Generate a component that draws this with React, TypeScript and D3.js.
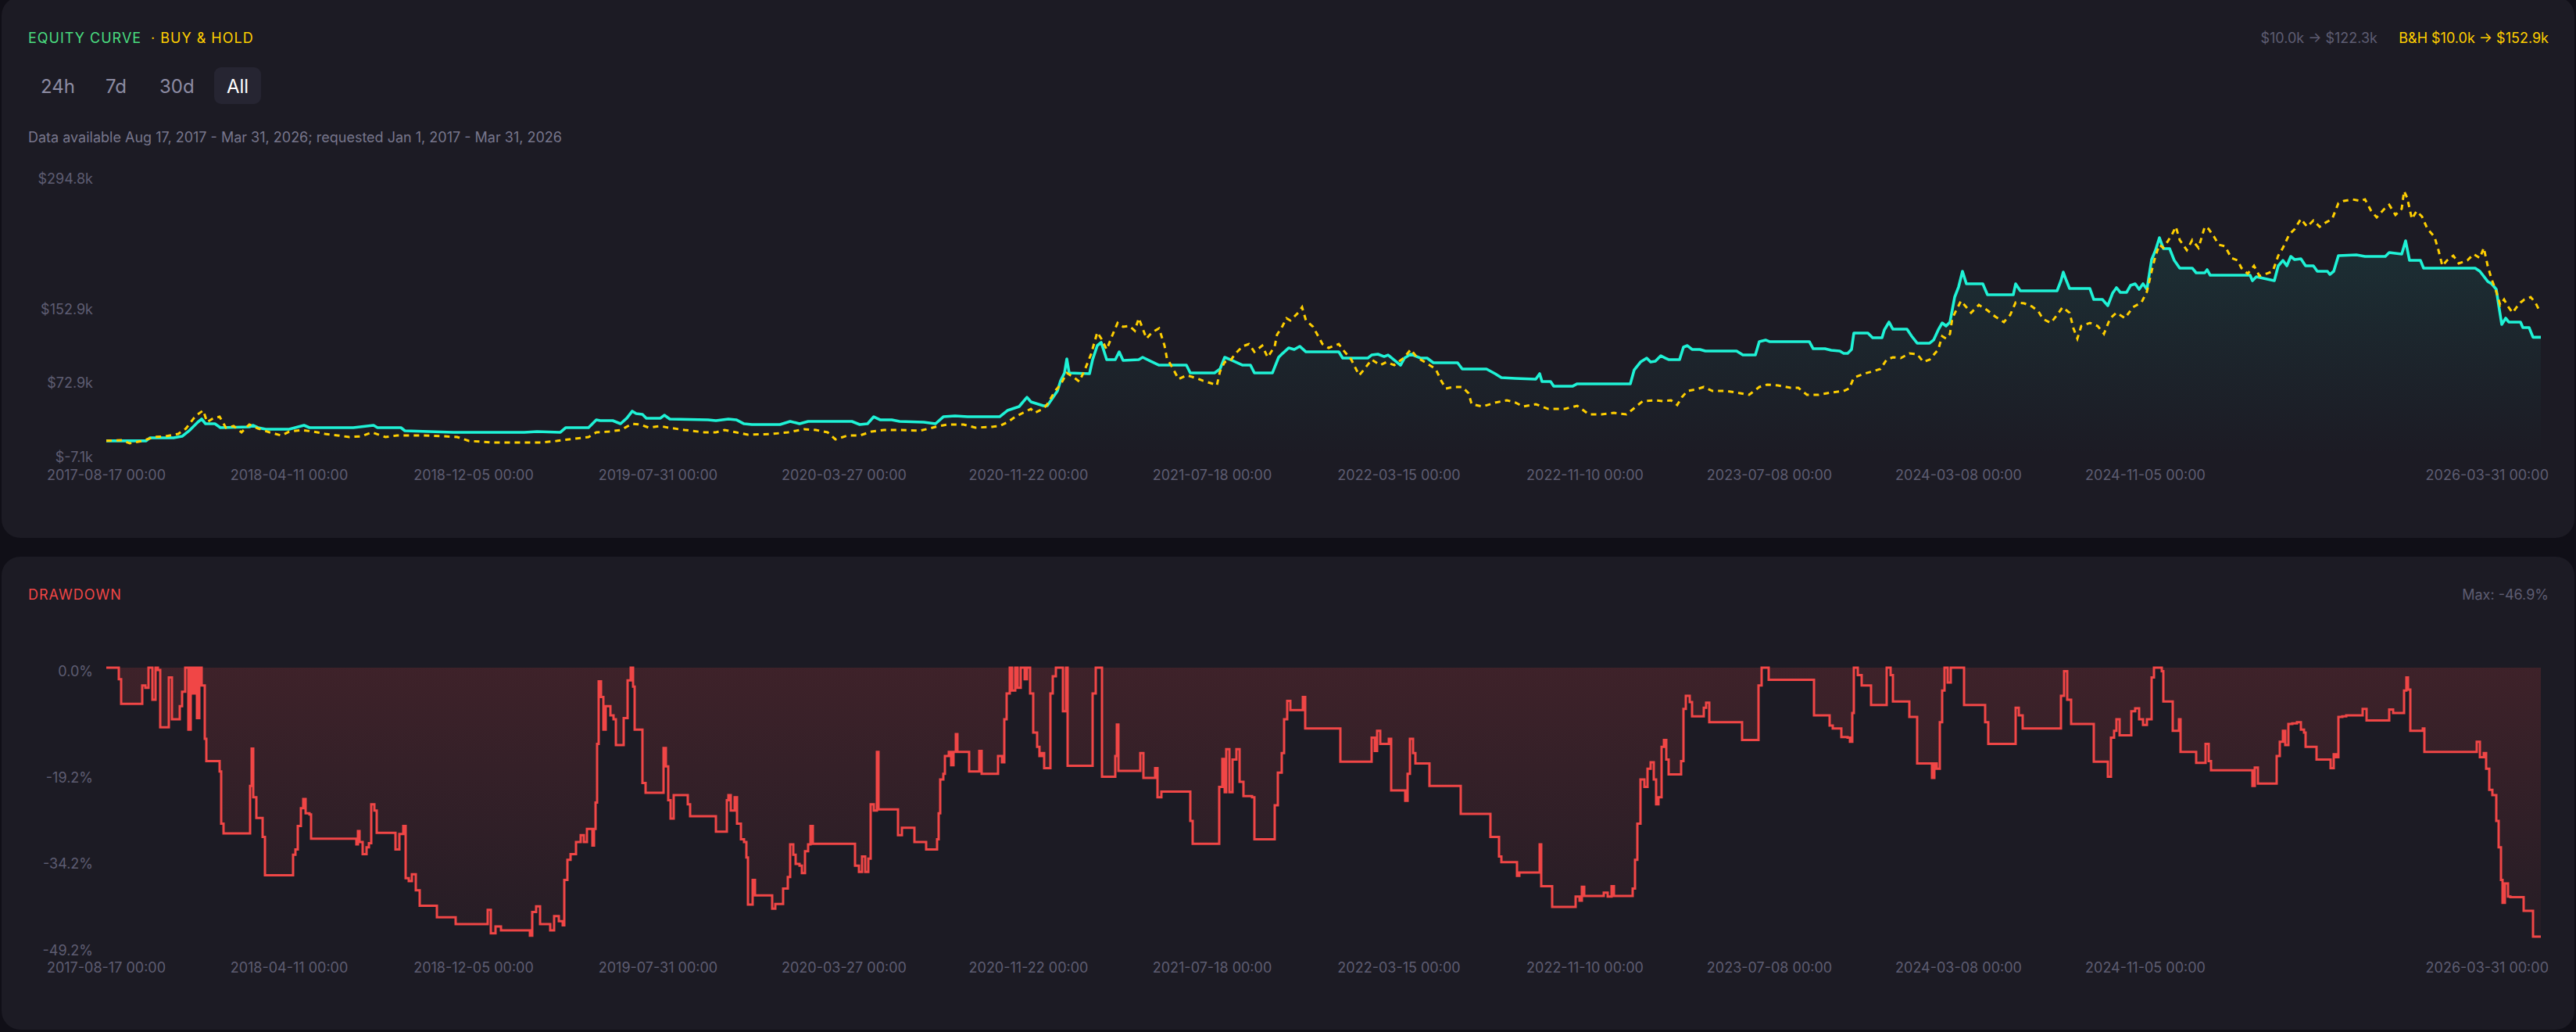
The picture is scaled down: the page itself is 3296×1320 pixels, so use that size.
import { useRef, useEffect } from 'react';
import * as d3 from 'd3';

const W = 3296;
const H = 1320;
const FONT = 'Inter, "Noto Sans", sans-serif';

// x is measured in bars (0 = first candle, 3115 = last)
const LAST_BAR = 3115;

const X_TICKS: [number, string][] = [
  [0, '2017-08-17 00:00'],
  [234, '2018-04-11 00:00'],
  [470, '2018-12-05 00:00'],
  [706, '2019-07-31 00:00'],
  [944, '2020-03-27 00:00'],
  [1180, '2020-11-22 00:00'],
  [1415, '2021-07-18 00:00'],
  [1654, '2022-03-15 00:00'],
  [1892, '2022-11-10 00:00'],
  [2128, '2023-07-08 00:00'],
  [2370, '2024-03-08 00:00'],
  [2609, '2024-11-05 00:00'],
  [3115, '2026-03-31 00:00'],
];

const EQ_DOMAIN = [-7.1, 294.8];
const EQ_TICKS = [294.8, 152.9, 72.9, -7.1];
const DD_DOMAIN = [-49.2, 0];
const DD_TICKS = [0, -19.2, -34.2, -49.2];

const RANGES = ['24h', '7d', '30d', 'All'];
const ACTIVE_RANGE = 'All';

// strategy equity, $k
const STRATEGY: [number, number][] = [
  [0, 10.0], [51, 10.0], [56, 13.3], [86, 13.3], [97, 14.9], [107, 21.7], [117, 30.2], [122, 33.6],
  [127, 28.5], [139, 28.5], [146, 24.3], [183, 25.1], [188, 26.8], [194, 24.3], [204, 22.6], [234, 22.6],
  [253, 26.8], [260, 24.3], [316, 24.3], [342, 26.8], [347, 24.3], [377, 24.3], [382, 20.9], [413, 20.0],
  [444, 19.2], [535, 19.2], [551, 20.0], [581, 19.2], [588, 24.3], [617, 24.3], [627, 32.8], [632, 31.9],
  [648, 31.9], [658, 28.5], [666, 34.5], [673, 42.1], [678, 39.5], [686, 38.7], [691, 34.5], [709, 34.5],
  [714, 37.8], [721, 33.6], [770, 32.8], [780, 31.9], [796, 33.6], [806, 32.8], [816, 28.5], [826, 27.7],
  [862, 27.7], [875, 31.1], [887, 28.5], [898, 31.1], [954, 31.1], [964, 27.7], [974, 28.5], [982, 36.1],
  [990, 32.8], [1005, 32.8], [1015, 31.1], [1046, 30.2], [1061, 28.5], [1071, 36.1], [1086, 37.0], [1102, 36.1],
  [1143, 36.1], [1153, 42.9], [1168, 47.2], [1178, 57.3], [1183, 52.3], [1199, 48.0], [1204, 48.0], [1217, 64.1],
  [1221, 75.2], [1226, 83.6], [1229, 98.9], [1232, 83.6], [1258, 82.8], [1262, 98.1], [1268, 113.3], [1273, 116.7],
  [1280, 98.1], [1291, 98.1], [1296, 106.5], [1301, 97.2], [1321, 98.1], [1326, 100.6], [1336, 96.4], [1347, 92.1],
  [1382, 92.1], [1387, 83.6], [1418, 83.6], [1425, 87.9], [1431, 100.6], [1438, 98.1], [1454, 92.1], [1464, 92.1],
  [1469, 83.6], [1492, 83.6], [1500, 100.6], [1505, 104.8], [1513, 110.8], [1520, 109.1], [1527, 112.5], [1535, 106.5],
  [1577, 106.5], [1582, 99.7], [1614, 99.7], [1619, 103.1], [1627, 104.0], [1635, 101.4], [1640, 103.1], [1645, 99.7],
  [1656, 92.1], [1661, 99.7], [1669, 104.0], [1682, 99.7], [1690, 99.7], [1698, 94.7], [1729, 94.7], [1735, 87.9],
  [1766, 87.9], [1777, 82.8], [1785, 78.5], [1803, 77.7], [1829, 76.9], [1834, 82.8], [1837, 74.3], [1848, 74.3],
  [1852, 69.2], [1876, 69.2], [1882, 71.8], [1950, 71.8], [1955, 87.0], [1963, 95.5], [1971, 99.7], [1976, 95.5],
  [1982, 96.4], [1989, 102.3], [1995, 99.7], [1999, 98.1], [2013, 98.1], [2018, 111.6], [2023, 113.3], [2029, 109.1],
  [2039, 109.1], [2046, 107.4], [2086, 107.4], [2094, 103.1], [2110, 103.1], [2115, 117.6], [2123, 119.3], [2128, 117.6],
  [2179, 117.6], [2184, 109.9], [2199, 109.9], [2207, 108.2], [2218, 107.4], [2223, 104.8], [2228, 104.8], [2233, 109.1],
  [2236, 126.9], [2254, 126.9], [2260, 121.8], [2272, 121.8], [2275, 130.3], [2281, 138.8], [2286, 131.1], [2304, 131.1],
  [2310, 123.5], [2317, 115.9], [2333, 115.9], [2338, 119.3], [2344, 130.3], [2349, 137.9], [2354, 134.5], [2359, 138.8],
  [2365, 165.9], [2370, 176.9], [2375, 193.9], [2380, 180.3], [2401, 180.3], [2407, 168.4], [2440, 168.4], [2443, 180.3],
  [2449, 172.7], [2496, 172.7], [2501, 183.7], [2504, 193.0], [2508, 183.7], [2512, 175.2], [2538, 175.2], [2543, 163.3],
  [2554, 163.3], [2561, 156.6], [2567, 170.1], [2572, 176.1], [2577, 171.0], [2585, 171.0], [2590, 178.6], [2596, 180.3],
  [2601, 174.4], [2606, 180.3], [2611, 174.4], [2617, 206.6], [2622, 216.8], [2627, 230.3], [2632, 218.5], [2640, 218.5],
  [2646, 205.7], [2653, 197.3], [2669, 197.3], [2674, 192.2], [2685, 192.2], [2688, 195.6], [2692, 189.6], [2743, 189.6],
  [2746, 183.7], [2751, 187.9], [2774, 183.7], [2779, 199.8], [2785, 205.7], [2790, 199.8], [2795, 210.0], [2800, 206.6],
  [2808, 207.4], [2814, 199.8], [2824, 199.8], [2829, 193.9], [2842, 193.9], [2845, 190.5], [2850, 193.9], [2856, 210.8],
  [2879, 211.7], [2890, 210.0], [2916, 210.0], [2921, 214.2], [2937, 212.5], [2942, 226.9], [2947, 205.7], [2961, 205.7],
  [2965, 197.3], [3031, 197.3], [3037, 193.9], [3047, 182.9], [3052, 180.3], [3058, 174.4], [3061, 157.4], [3065, 136.2],
  [3070, 143.0], [3074, 138.8], [3089, 138.8], [3092, 132.8], [3100, 132.8], [3105, 122.3], [3115, 122.3],
];

// buy & hold equity, $k
const BUY_HOLD: [number, number][] = [
  [0, 10.0], [20, 10.7], [30, 7.3], [46, 9.9], [61, 14.1], [76, 14.9], [92, 17.5], [102, 23.4],
  [112, 34.5], [117, 38.7], [124, 42.9], [129, 30.2], [137, 34.5], [145, 36.1], [153, 24.3], [163, 26.0],
  [173, 19.2], [183, 27.7], [194, 23.4], [209, 19.2], [224, 15.8], [234, 20.0], [250, 21.7], [265, 20.0],
  [280, 17.5], [296, 15.8], [311, 14.1], [326, 14.9], [340, 19.2], [357, 14.1], [372, 15.8], [403, 15.8],
  [433, 14.9], [449, 14.1], [464, 9.9], [495, 8.2], [556, 8.2], [576, 9.9], [592, 11.6], [617, 14.1],
  [627, 19.2], [643, 20.0], [658, 21.7], [673, 28.5], [683, 27.7], [694, 24.3], [709, 26.0], [719, 24.3],
  [740, 21.7], [765, 19.2], [780, 19.2], [791, 21.7], [806, 19.2], [821, 16.6], [852, 17.5], [872, 19.2],
  [893, 22.6], [908, 21.7], [923, 19.2], [933, 11.6], [949, 15.8], [964, 15.8], [979, 20.0], [995, 21.7],
  [1015, 21.7], [1041, 20.9], [1061, 25.1], [1076, 27.7], [1097, 27.7], [1112, 24.3], [1132, 25.1], [1143, 26.0],
  [1153, 30.2], [1163, 36.1], [1173, 40.4], [1183, 44.6], [1188, 40.4], [1194, 42.9], [1199, 44.6], [1204, 49.7],
  [1214, 64.1], [1221, 70.9], [1229, 83.6], [1237, 79.4], [1245, 74.3], [1252, 87.0], [1260, 104.0], [1268, 127.7],
  [1273, 120.9], [1280, 109.1], [1288, 126.0], [1294, 137.9], [1301, 133.7], [1309, 134.5], [1316, 129.4], [1321, 143.0],
  [1331, 120.9], [1338, 127.7], [1347, 132.0], [1354, 113.3], [1357, 99.7], [1364, 89.6], [1372, 76.9], [1382, 81.1],
  [1393, 78.5], [1403, 75.2], [1413, 72.6], [1421, 70.1], [1425, 85.3], [1431, 95.5], [1438, 96.4], [1444, 104.0],
  [1454, 112.5], [1462, 115.0], [1469, 106.5], [1479, 113.3], [1486, 100.6], [1495, 112.5], [1498, 125.2], [1505, 134.5],
  [1510, 143.0], [1515, 140.5], [1525, 148.9], [1530, 154.9], [1535, 140.5], [1544, 133.7], [1549, 126.0], [1556, 115.0],
  [1564, 110.8], [1577, 115.0], [1582, 109.1], [1593, 98.1], [1603, 81.1], [1609, 87.0], [1619, 98.1], [1630, 92.1],
  [1638, 95.5], [1648, 92.1], [1661, 100.6], [1669, 109.1], [1677, 100.6], [1687, 95.5], [1701, 87.9], [1708, 75.2],
  [1714, 66.7], [1724, 68.4], [1735, 68.4], [1743, 61.6], [1747, 49.7], [1761, 47.2], [1777, 51.4], [1792, 54.0],
  [1803, 51.4], [1813, 47.2], [1829, 49.7], [1845, 44.6], [1866, 44.6], [1882, 48.0], [1897, 38.7], [1913, 38.7],
  [1929, 40.4], [1945, 38.7], [1955, 45.5], [1966, 53.1], [1981, 54.0], [1992, 53.1], [2002, 54.0], [2010, 48.9],
  [2016, 57.3], [2023, 64.1], [2034, 65.8], [2044, 68.4], [2055, 64.1], [2071, 64.1], [2086, 62.4], [2102, 59.9],
  [2115, 68.4], [2125, 70.9], [2139, 70.1], [2155, 67.5], [2165, 67.5], [2176, 59.9], [2191, 59.9], [2207, 62.4],
  [2223, 64.1], [2230, 66.7], [2236, 78.5], [2249, 82.8], [2260, 85.3], [2270, 87.9], [2278, 98.1], [2286, 100.6],
  [2296, 99.7], [2307, 104.8], [2317, 104.0], [2325, 95.5], [2333, 98.1], [2344, 109.1], [2349, 123.5], [2354, 120.9],
  [2359, 126.0], [2362, 143.0], [2367, 151.5], [2373, 161.7], [2380, 154.9], [2386, 148.9], [2396, 157.4], [2407, 151.5],
  [2417, 144.7], [2428, 138.8], [2436, 146.4], [2443, 160.0], [2454, 159.1], [2464, 155.7], [2472, 150.6], [2478, 142.1],
  [2488, 137.9], [2496, 146.4], [2503, 154.9], [2512, 148.9], [2517, 132.0], [2522, 120.9], [2527, 134.5], [2538, 137.9],
  [2548, 134.5], [2556, 126.0], [2564, 143.0], [2572, 148.9], [2583, 143.0], [2593, 154.9], [2604, 160.0], [2611, 171.8],
  [2617, 193.9], [2622, 210.8], [2627, 222.7], [2632, 219.3], [2638, 226.9], [2643, 233.7], [2648, 242.2], [2653, 227.8],
  [2662, 216.8], [2669, 227.8], [2677, 219.3], [2685, 242.2], [2690, 239.7], [2697, 231.2], [2703, 222.7], [2711, 221.0],
  [2719, 208.3], [2727, 205.7], [2732, 197.3], [2740, 191.3], [2748, 199.8], [2755, 188.8], [2764, 191.3], [2772, 193.9],
  [2779, 210.8], [2785, 219.3], [2793, 233.7], [2800, 239.7], [2808, 250.7], [2816, 242.2], [2824, 249.0], [2832, 242.2],
  [2839, 246.4], [2848, 250.7], [2856, 267.7], [2863, 270.2], [2874, 271.9], [2884, 270.2], [2890, 271.9], [2898, 259.2],
  [2905, 252.4], [2914, 260.9], [2921, 266.0], [2929, 255.0], [2937, 261.7], [2940, 280.8], [2944, 273.6], [2950, 250.7],
  [2956, 259.2], [2963, 253.2], [2970, 239.7], [2979, 231.2], [2984, 216.8], [2989, 199.8], [2995, 205.7], [3003, 210.8],
  [3010, 202.4], [3021, 205.7], [3029, 212.5], [3037, 208.3], [3042, 219.3], [3047, 199.8], [3052, 185.4], [3058, 171.8],
  [3063, 157.4], [3068, 163.3], [3073, 155.7], [3079, 148.9], [3084, 154.9], [3089, 160.0], [3094, 163.3], [3102, 165.9],
  [3108, 160.0], [3112, 153.2], [3115, 152.9],
];

// strategy drawdown, %
const DRAWDOWN: [number, number][] = [
  [0, 0], [16, 0], [16, -2.0], [19, -2.0], [19, -6.3], [43, -6.3], [46, -3.1], [50, -3.5], [54, 0], [57, 0],
  [59, -5.6], [63, 0], [66, -0.4], [69, -10.4], [77, -10.4], [80, -1.7], [84, -9.0], [90, -9.0], [94, -6.7], [97, -4.2],
  [101, 0], [105, -10.8], [108, 0], [111, -4.5], [114, 0], [116, -8.8], [119, 0], [122, -3.1], [126, -12.4], [128, -16.3],
  [142, -16.3], [145, -18.1], [147, -27.2], [150, -28.9], [181, -28.9], [184, -20.6], [186, -14.1], [188, -22.6], [192, -26.2], [197, -26.2],
  [200, -29.5], [203, -36.2], [237, -36.2], [239, -32.6], [242, -31.7], [245, -27.6], [249, -24.5], [252, -22.9], [255, -25.4], [260, -25.6],
  [262, -29.8], [317, -29.8], [320, -30.8], [322, -28.5], [324, -30.4], [328, -32.5], [333, -31.3], [336, -30.6], [339, -23.8], [343, -24.9],
  [346, -28.8], [367, -28.8], [370, -31.7], [375, -29.0], [380, -27.6], [383, -36.7], [387, -37.2], [391, -36.0], [396, -38.8], [401, -41.5],
  [420, -41.5], [423, -43.5], [445, -43.5], [447, -44.7], [485, -44.7], [488, -42.2], [492, -46.3], [498, -45.1], [505, -45.8], [537, -45.8],
  [542, -46.7], [545, -42.6], [550, -41.6], [555, -44.7], [563, -44.7], [568, -45.8], [573, -43.3], [579, -44.2], [584, -44.9], [586, -37.0],
  [590, -33.5], [594, -32.5], [601, -30.4], [607, -29.2], [611, -30.4], [615, -28.1], [622, -31.0], [624, -28.1], [626, -23.5], [628, -13.3],
  [630, -2.4], [633, -5.1], [636, -10.8], [639, -6.7], [645, -8.3], [649, -9.0], [652, -13.5], [659, -13.5], [662, -8.8], [667, -2.2],
  [671, 0], [674, -3.3], [676, -10.8], [684, -10.8], [686, -20.1], [690, -21.8], [709, -21.8], [713, -14.0], [716, -17.2], [719, -23.1],
  [722, -26.3], [726, -22.2], [741, -22.2], [744, -23.8], [747, -25.9], [776, -25.9], [780, -28.6], [791, -28.6], [794, -23.1], [796, -22.2],
  [799, -24.9], [804, -22.6], [807, -27.2], [812, -29.9], [816, -30.4], [819, -33.1], [821, -41.3], [827, -37.0], [830, -39.7], [849, -39.7],
  [852, -42.0], [856, -41.2], [862, -41.2], [866, -38.5], [872, -36.5], [875, -30.8], [879, -32.6], [882, -34.2], [887, -34.5], [890, -35.8],
  [894, -32.0], [898, -30.8], [901, -27.6], [904, -30.7], [955, -30.7], [958, -34.5], [963, -35.6], [967, -32.9], [971, -35.6], [975, -33.3],
  [978, -23.8], [982, -24.9], [986, -14.7], [988, -24.7], [1010, -24.7], [1013, -29.2], [1018, -27.9], [1031, -27.9], [1034, -30.4], [1044, -30.4],
  [1049, -31.7], [1060, -31.7], [1063, -29.9], [1065, -25.4], [1067, -19.5], [1071, -18.5], [1073, -15.4], [1078, -14.7], [1081, -17.0], [1084, -14.7],
  [1087, -11.6], [1089, -14.7], [1102, -14.7], [1104, -18.1], [1115, -18.1], [1117, -14.5], [1120, -18.5], [1138, -18.5], [1141, -15.4], [1146, -16.5],
  [1149, -9.0], [1152, -4.5], [1156, 0], [1159, -4.0], [1163, 0], [1166, -3.5], [1170, 0], [1175, -2.0], [1178, 0], [1182, -4.5],
  [1186, -11.3], [1191, -13.8], [1194, -15.4], [1197, -14.9], [1200, -17.5], [1206, -17.5], [1208, -4.5], [1211, -1.5], [1215, 0], [1220, 0],
  [1224, -7.6], [1228, 0], [1230, -17.1], [1259, -17.1], [1262, -4.5], [1266, 0], [1272, 0], [1274, -19.0], [1288, -19.0], [1291, -15.4],
  [1293, -9.9], [1295, -18.0], [1320, -18.0], [1323, -14.9], [1327, -19.2], [1339, -19.2], [1342, -17.5], [1345, -22.6], [1350, -21.6], [1384, -21.6],
  [1387, -26.7], [1390, -30.7], [1421, -30.7], [1424, -20.8], [1428, -15.9], [1431, -21.7], [1433, -14.2], [1437, -21.7], [1441, -16.0], [1446, -14.2],
  [1450, -19.9], [1455, -22.4], [1466, -22.6], [1469, -29.9], [1492, -29.9], [1495, -24.0], [1499, -18.3], [1504, -14.9], [1507, -9.0], [1511, -5.8],
  [1515, -7.4], [1528, -7.4], [1531, -5.1], [1534, -10.6], [1575, -10.6], [1579, -16.4], [1616, -16.4], [1619, -12.2], [1623, -14.5], [1626, -11.0],
  [1630, -13.3], [1638, -13.3], [1641, -12.4], [1644, -21.4], [1659, -21.4], [1662, -23.2], [1665, -18.5], [1668, -12.4], [1672, -14.9], [1675, -16.7],
  [1690, -16.7], [1693, -20.6], [1729, -20.6], [1733, -25.5], [1766, -25.5], [1771, -29.5], [1779, -29.5], [1782, -32.9], [1785, -33.9], [1803, -33.9],
  [1805, -36.3], [1808, -35.7], [1831, -35.7], [1834, -30.8], [1836, -38.1], [1848, -38.1], [1850, -41.7], [1877, -41.7], [1880, -39.9], [1885, -40.6],
  [1888, -38.2], [1891, -39.8], [1913, -39.8], [1916, -39.2], [1921, -39.9], [1926, -38.1], [1929, -39.8], [1950, -39.8], [1953, -38.5], [1956, -33.5],
  [1959, -27.2], [1963, -19.5], [1968, -20.8], [1972, -17.6], [1976, -16.5], [1980, -19.5], [1983, -23.8], [1986, -22.6], [1990, -13.8], [1993, -12.6],
  [1996, -16.0], [1999, -18.6], [2013, -18.6], [2015, -16.3], [2018, -7.2], [2021, -4.9], [2026, -6.0], [2029, -8.5], [2041, -8.5], [2044, -7.0],
  [2047, -6.1], [2051, -9.5], [2089, -9.5], [2093, -12.6], [2110, -12.6], [2114, -3.1], [2118, 0], [2123, 0], [2127, -2.1], [2182, -2.1],
  [2185, -8.3], [2202, -8.3], [2205, -10.1], [2209, -10.6], [2215, -10.6], [2220, -12.1], [2228, -12.2], [2231, -12.9], [2234, -7.9], [2236, 0],
  [2241, -1.3], [2246, -3.1], [2255, -3.1], [2258, -6.5], [2275, -6.5], [2278, 0], [2283, -1.3], [2286, -5.9], [2305, -5.9], [2307, -8.6],
  [2314, -8.6], [2317, -16.7], [2333, -16.7], [2336, -19.2], [2339, -16.7], [2342, -17.6], [2346, -9.5], [2349, -4.0], [2352, 0], [2356, -2.6],
  [2360, 0], [2373, 0], [2377, -6.5], [2401, -6.5], [2404, -9.5], [2408, -13.3], [2440, -13.3], [2443, -7.0], [2447, -8.3], [2452, -10.6],
  [2498, -10.6], [2501, -4.9], [2505, -0.6], [2509, -5.6], [2514, -9.8], [2538, -9.8], [2543, -16.4], [2557, -16.4], [2561, -19.0], [2565, -12.2],
  [2569, -11.0], [2572, -9.0], [2576, -11.8], [2587, -11.8], [2591, -7.6], [2596, -7.1], [2601, -9.0], [2606, -10.0], [2611, -9.0], [2617, -1.7],
  [2620, 0], [2625, 0], [2630, -0.6], [2632, -5.9], [2641, -5.9], [2644, -11.0], [2650, -11.0], [2652, -9.0], [2654, -14.7], [2671, -14.7],
  [2674, -16.6], [2682, -16.6], [2686, -13.3], [2690, -16.3], [2693, -17.9], [2743, -17.9], [2746, -20.6], [2749, -17.4], [2753, -20.2], [2774, -20.2],
  [2777, -15.4], [2781, -12.9], [2785, -11.0], [2788, -13.5], [2792, -9.8], [2797, -9.7], [2803, -9.5], [2808, -10.8], [2812, -11.3], [2814, -13.8],
  [2824, -13.8], [2828, -16.0], [2842, -16.0], [2846, -17.5], [2850, -15.1], [2853, -15.6], [2856, -8.6], [2861, -8.5], [2866, -8.3], [2884, -8.3],
  [2887, -7.2], [2892, -9.2], [2917, -9.2], [2921, -7.3], [2926, -7.9], [2937, -7.9], [2940, -4.0], [2943, -1.7], [2945, -3.8], [2948, -11.0],
  [2961, -11.0], [2964, -10.6], [2966, -14.7], [3031, -14.7], [3033, -12.9], [3037, -15.6], [3042, -14.9], [3045, -17.6], [3049, -21.3], [3053, -22.2],
  [3058, -26.7], [3061, -31.3], [3064, -37.0], [3066, -41.0], [3069, -37.6], [3073, -39.9], [3076, -40.0], [3089, -40.0], [3093, -42.4], [3102, -42.4],
  [3105, -46.9], [3115, -46.9],
];

const C = {
  page: '#100f17',
  panel: '#1c1b24',
  grey: '#5e5d72',
  greyLight: '#77768c',
  button: '#8d8ca3',
  green: '#4ade80',
  yellow: '#ffcf00',
  cyan: '#1ff2d6',
  red: '#f04646',
};

export default function App() {
  const svgRef = useRef<SVGSVGElement>(null);

  useEffect(() => {
    const svg = d3.select(svgRef.current);
    svg.selectAll('*').remove();

    const x = d3.scaleLinear().domain([0, LAST_BAR]).range([136, 3251]);
    const yEq = d3.scaleLinear().domain(EQ_DOMAIN).range([584, 228]);
    const yDd = d3.scaleLinear().domain(DD_DOMAIN).range([1215, 854]);

    const text = (
      tx: number,
      ty: number,
      str: string,
      fill: string,
      size = 18,
      anchor = 'start',
      spacing = 0
    ) =>
      svg
        .append('text')
        .attr('x', tx)
        .attr('y', ty)
        .attr('fill', fill)
        .attr('font-size', size)
        .attr('font-family', FONT)
        .attr('text-anchor', anchor)
        .attr('dominant-baseline', 'central')
        .attr('letter-spacing', spacing)
        .text(str);

    // gradients
    const defs = svg.append('defs');
    const eqGrad = defs
      .append('linearGradient')
      .attr('id', 'eqFill')
      .attr('gradientUnits', 'userSpaceOnUse')
      .attr('x1', 0).attr('x2', 0)
      .attr('y1', yEq.range()[1]).attr('y2', yEq.range()[0]);
    eqGrad.append('stop').attr('offset', 0).attr('stop-color', C.cyan).attr('stop-opacity', 0.12);
    eqGrad.append('stop').attr('offset', 1).attr('stop-color', C.cyan).attr('stop-opacity', 0.0);

    const ddGrad = defs
      .append('linearGradient')
      .attr('id', 'ddFill')
      .attr('gradientUnits', 'userSpaceOnUse')
      .attr('x1', 0).attr('x2', 0)
      .attr('y1', yDd.range()[1]).attr('y2', yDd.range()[0]);
    ddGrad.append('stop').attr('offset', 0).attr('stop-color', C.red).attr('stop-opacity', 0.16);
    ddGrad.append('stop').attr('offset', 1).attr('stop-color', C.red).attr('stop-opacity', 0.04);

    // page + panels
    svg.append('rect').attr('width', W).attr('height', H).attr('fill', C.page);
    svg.append('rect').attr('x', 2).attr('y', -4).attr('width', 3292).attr('height', 692).attr('rx', 24).attr('fill', C.panel);
    svg.append('rect').attr('x', 2).attr('y', 712).attr('width', 3292).attr('height', 605).attr('rx', 24).attr('fill', C.panel);

    // ---- equity header
    text(36, 48, 'EQUITY CURVE', C.green, 18, 'start', 1);
    text(193, 48, '· BUY & HOLD', C.yellow, 18, 'start', 1);
    text(3042, 48, '$10.0k \u2192 $122.3k', C.grey, 18, 'end');
    text(3261, 48, 'B&H $10.0k \u2192 $152.9k', C.yellow, 18, 'end');

    const btnX = [52, 135, 204, 290];
    RANGES.forEach((r, i) => {
      const active = r === ACTIVE_RANGE;
      if (active) {
        svg
          .append('rect')
          .attr('x', btnX[i] - 16)
          .attr('y', 86)
          .attr('width', 60)
          .attr('height', 47)
          .attr('rx', 9)
          .attr('fill', '#262532');
      }
      text(btnX[i], 110, r, active ? '#ffffff' : C.button, 24);
    });

    text(36, 175, 'Data available Aug 17, 2017 - Mar 31, 2026; requested Jan 1, 2017 - Mar 31, 2026', C.greyLight, 18);

    // equity y labels
    EQ_TICKS.forEach((t) => {
      text(119, yEq(t), `$${t.toFixed(1)}k`, C.grey, 18, 'end');
    });

    // x labels (both panels)
    const xLabels = (ty: number) => {
      X_TICKS.forEach(([b, lab], i) => {
        const last = i === X_TICKS.length - 1;
        text(last ? x(b) + 10 : x(b), ty, lab, C.grey, 18, last ? 'end' : 'middle');
      });
    };
    xLabels(607);

    const eqArea = d3
      .area<[number, number]>()
      .x((d) => x(d[0]))
      .y0(yEq(EQ_DOMAIN[0]))
      .y1((d) => yEq(d[1]));
    const eqLine = d3
      .line<[number, number]>()
      .x((d) => x(d[0]))
      .y((d) => yEq(d[1]));

    svg.append('path').attr('d', eqArea(STRATEGY)).attr('fill', 'url(#eqFill)');
    svg
      .append('path')
      .attr('d', eqLine(STRATEGY))
      .attr('fill', 'none')
      .attr('stroke', C.cyan)
      .attr('stroke-width', 3.6)
      .attr('stroke-linejoin', 'round');
    svg
      .append('path')
      .attr('d', eqLine(BUY_HOLD))
      .attr('fill', 'none')
      .attr('stroke', C.yellow)
      .attr('stroke-width', 3)
      .attr('stroke-dasharray', '7,6');

    // ---- drawdown
    text(36, 760, 'DRAWDOWN', C.red, 18, 'start', 1);
    text(3261, 760, `Max: ${d3.min(DRAWDOWN, (d) => d[1])!.toFixed(1)}%`, C.grey, 18, 'end');

    DD_TICKS.forEach((t) => {
      text(119, Math.max(yDd(t), yDd(0) + 4), `${t.toFixed(1)}%`, C.grey, 18, 'end');
    });
    xLabels(1237);

    const ddArea = d3
      .area<[number, number]>()
      .x((d) => x(d[0]))
      .y0(yDd(0))
      .y1((d) => yDd(d[1]))
      .curve(d3.curveStepAfter);
    const ddLine = d3
      .line<[number, number]>()
      .x((d) => x(d[0]))
      .y((d) => yDd(d[1]))
      .curve(d3.curveStepAfter);

    svg.append('path').attr('d', ddArea(DRAWDOWN)).attr('fill', 'url(#ddFill)');
    svg
      .append('path')
      .attr('d', ddLine(DRAWDOWN))
      .attr('fill', 'none')
      .attr('stroke', C.red)
      .attr('stroke-width', 3)
      .attr('stroke-linejoin', 'miter');
  }, []);

  return (
    <svg
      ref={svgRef}
      width={W}
      height={H}
      style={{ position: 'absolute', left: 0, top: 0, display: 'block' }}
    />
  );
}
